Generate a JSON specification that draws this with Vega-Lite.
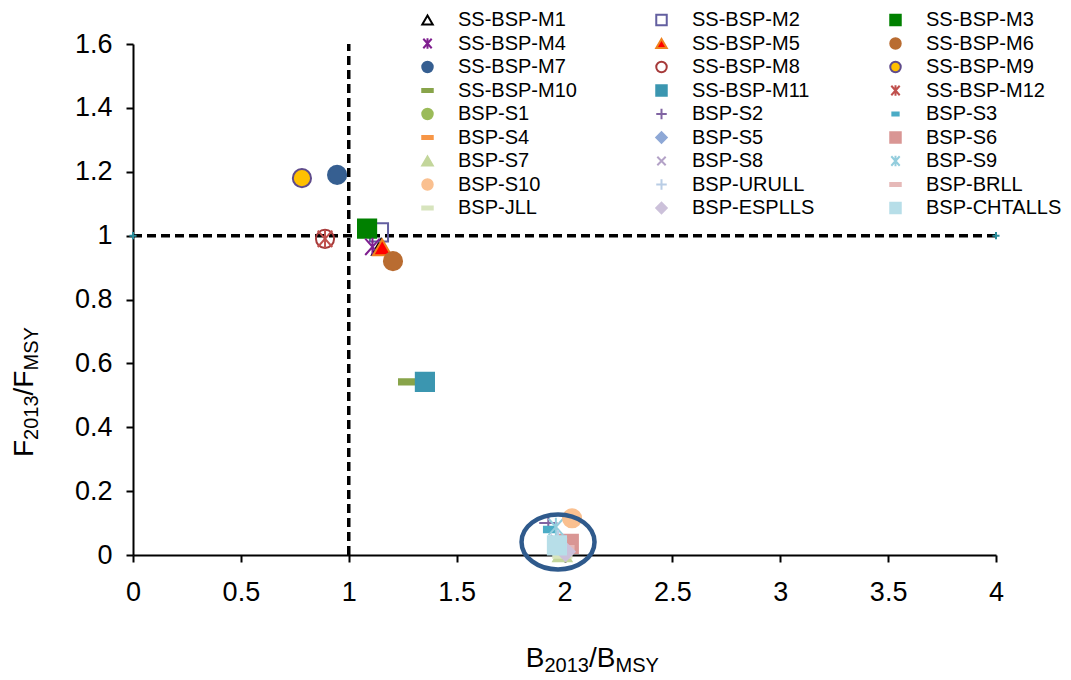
{
  "$schema": "https://vega.github.io/schema/vega-lite/v6.json",
  "width": 863,
  "height": 511,
  "autosize": {"type": "none"},
  "padding": {"left": 133, "top": 44, "right": 75, "bottom": 125},
  "background": "white",
  "config": {
    "view": {"stroke": null},
    "font": "Liberation Sans",
    "axis": {
      "grid": false,
      "domainColor": "black",
      "domainWidth": 2,
      "tickColor": "black",
      "tickWidth": 2,
      "tickSize": 7,
      "labelFlush": false,
      "labelFont": "Liberation Sans",
      "labelFontSize": 27,
      "labelColor": "black"
    },
    "legend": {"title": null, "orient": "none", "legendX": 284.5, "legendY": -34, "columns": 3, "gridAlign": "all", "columnPadding": 58, "rowPadding": 3.5, "labelOffset": 20.5, "labelFontSize": 20, "labelFont": "Liberation Sans", "labelColor": "black", "symbolSize": 110, "symbolStrokeWidth": 2, "symbolOpacity": 1, "labelLimit": 300, "padding": 0}
  },
  "datasets": {
    "series": [
      {"series": "SS-BSP-M1", "x": 1.15, "y": 0.965},
      {"series": "SS-BSP-M2", "x": 1.14, "y": 1.01},
      {"series": "SS-BSP-M3", "x": 1.085, "y": 1.022},
      {"series": "SS-BSP-M4", "x": 1.11, "y": 0.965},
      {"series": "SS-BSP-M5", "x": 1.155, "y": 0.963},
      {"series": "SS-BSP-M6", "x": 1.205, "y": 0.92},
      {"series": "SS-BSP-M7", "x": 0.946, "y": 1.19},
      {"series": "SS-BSP-M8", "x": 0.89, "y": 0.99},
      {"series": "SS-BSP-M9", "x": 0.783, "y": 1.18},
      {"series": "SS-BSP-M10", "x": 1.275, "y": 0.542},
      {"series": "SS-BSP-M11", "x": 1.353, "y": 0.542},
      {"series": "SS-BSP-M12", "x": 0.89, "y": 0.99},
      {"series": "BSP-S1", "x": 1.99, "y": 0.02},
      {"series": "BSP-S2", "x": 1.925, "y": 0.1},
      {"series": "BSP-S3", "x": 1.93, "y": 0.08},
      {"series": "BSP-S4", "x": 1.98, "y": 0.03},
      {"series": "BSP-S5", "x": 1.98, "y": 0.02},
      {"series": "BSP-S6", "x": 2.02, "y": 0.035},
      {"series": "BSP-S7", "x": 1.99, "y": 0.005},
      {"series": "BSP-S8", "x": 1.97, "y": 0.04},
      {"series": "BSP-S9", "x": 1.96, "y": 0.088},
      {"series": "BSP-S10", "x": 2.035, "y": 0.115},
      {"series": "BSP-URULL", "x": 1.97, "y": 0.05},
      {"series": "BSP-BRLL", "x": 2.0, "y": 0.02},
      {"series": "BSP-JLL", "x": 1.99, "y": 0.0},
      {"series": "BSP-ESPLLS", "x": 2.005, "y": 0.01},
      {"series": "BSP-CHTALLS", "x": 1.965, "y": 0.03}
    ],
    "refs": [
      {"x": 0, "y": 1, "x2": 4, "y2": 1},
      {"x": 1, "y": 0, "x2": 1, "y2": 1.6}
    ],
    "ends": [{"x": 0, "y": 1}, {"x": 4, "y": 1}],
    "highlight": [{"x": 1.97, "y": 0.041}]
  },
  "layer": [
    {
      "data": {"name": "refs"},
      "mark": {"type": "rule", "color": "black", "strokeWidth": 3.5, "strokeDash": [9, 5]},
      "encoding": {
        "x": {"field": "x", "type": "quantitative", "title": null,
              "scale": {"domain": [0, 4], "nice": false, "zero": false},
              "axis": {"values": [0, 0.5, 1, 1.5, 2, 2.5, 3, 3.5, 4], "format": "~g", "labelPadding": 17, "title": null}},
        "y": {"field": "y", "type": "quantitative", "title": null,
              "scale": {"domain": [0, 1.6], "nice": false, "zero": false},
              "axis": {"values": [0, 0.2, 0.4, 0.6, 0.8, 1, 1.2, 1.4, 1.6], "format": "~g", "labelPadding": 14, "title": null}},
        "x2": {"field": "x2"},
        "y2": {"field": "y2"}
      }
    },
    {
      "data": {"name": "ends"},
      "mark": {"type": "point", "shape": "M -1 0 L 1 0 M 0 -1 L 0 1", "size": 50, "stroke": "#2A8C9A", "strokeWidth": 2, "opacity": 1},
      "encoding": {
        "x": {"field": "x", "type": "quantitative", "title": null},
        "y": {"field": "y", "type": "quantitative", "title": null}
      }
    },
    {
      "data": {"name": "series"},
      "mark": {"type": "point", "size": 330, "strokeWidth": 2, "opacity": 1},
      "encoding": {
        "x": {"field": "x", "type": "quantitative", "title": null},
        "y": {"field": "y", "type": "quantitative", "title": null},
        "fill": {
          "field": "series", "type": "nominal",
          "scale": {
            "domain": ["SS-BSP-M1", "SS-BSP-M4", "SS-BSP-M7", "SS-BSP-M10", "BSP-S1", "BSP-S4", "BSP-S7", "BSP-S10", "BSP-JLL", "SS-BSP-M2", "SS-BSP-M5", "SS-BSP-M8", "SS-BSP-M11", "BSP-S2", "BSP-S5", "BSP-S8", "BSP-URULL", "BSP-ESPLLS", "SS-BSP-M3", "SS-BSP-M6", "SS-BSP-M9", "SS-BSP-M12", "BSP-S3", "BSP-S6", "BSP-S9", "BSP-BRLL", "BSP-CHTALLS"],
            "range": ["transparent", "transparent", "#365F91", "#88A44A", "#9BBB59", "#F79646", "#C3D69B", "#FAC090", "#D7E4BD", "transparent", "#FF0000", "transparent", "#3B96B0", "transparent", "#8EA8D6", "transparent", "transparent", "#CCC1DA", "#008000", "#B96C31", "#FFC000", "transparent", "#4BACC6", "#D99694", "transparent", "#E6B9B8", "#B7DEE8"]
          },
          "legend": {"title": null}
        },
        "stroke": {
          "field": "series", "type": "nominal",
          "scale": {
            "domain": ["SS-BSP-M1", "SS-BSP-M4", "SS-BSP-M7", "SS-BSP-M10", "BSP-S1", "BSP-S4", "BSP-S7", "BSP-S10", "BSP-JLL", "SS-BSP-M2", "SS-BSP-M5", "SS-BSP-M8", "SS-BSP-M11", "BSP-S2", "BSP-S5", "BSP-S8", "BSP-URULL", "BSP-ESPLLS", "SS-BSP-M3", "SS-BSP-M6", "SS-BSP-M9", "SS-BSP-M12", "BSP-S3", "BSP-S6", "BSP-S9", "BSP-BRLL", "BSP-CHTALLS"],
            "range": ["#000000", "#7F1F8F", "#365F91", "#88A44A", "#9BBB59", "#F79646", "#C3D69B", "#FAC090", "#D7E4BD", "#635FA0", "#F0821E", "#A63A3A", "#3B96B0", "#8064A2", "#8EA8D6", "#B3A2C7", "#B9CDE5", "#CCC1DA", "#008000", "#B96C31", "#5F4B8B", "#C0504D", "#4BACC6", "#D99694", "#93CDDD", "#E6B9B8", "#B7DEE8"]
          },
          "legend": {"title": null}
        },
        "shape": {
          "field": "series", "type": "nominal",
          "scale": {
            "domain": ["SS-BSP-M1", "SS-BSP-M4", "SS-BSP-M7", "SS-BSP-M10", "BSP-S1", "BSP-S4", "BSP-S7", "BSP-S10", "BSP-JLL", "SS-BSP-M2", "SS-BSP-M5", "SS-BSP-M8", "SS-BSP-M11", "BSP-S2", "BSP-S5", "BSP-S8", "BSP-URULL", "BSP-ESPLLS", "SS-BSP-M3", "SS-BSP-M6", "SS-BSP-M9", "SS-BSP-M12", "BSP-S3", "BSP-S6", "BSP-S9", "BSP-BRLL", "BSP-CHTALLS"],
            "range": ["triangle-up", "M -0.8 -0.9 L 0.8 0.9 M -0.8 0.9 L 0.8 -0.9 M 0 -1 L 0 1", "circle", "M -1 -0.3 L 1 -0.3 L 1 0.3 L -1 0.3 Z", "circle", "M -1 -0.3 L 1 -0.3 L 1 0.3 L -1 0.3 Z", "triangle-up", "circle", "M -1 -0.3 L 1 -0.3 L 1 0.3 L -1 0.3 Z", "square", "triangle-up", "circle", "square", "M -1 0 L 1 0 M 0 -1 L 0 1", "diamond", "M -0.8 -0.8 L 0.8 0.8 M -0.8 0.8 L 0.8 -0.8", "M -1 0 L 1 0 M 0 -1 L 0 1", "diamond", "square", "circle", "circle", "M -0.8 -0.9 L 0.8 0.9 M -0.8 0.9 L 0.8 -0.9 M 0 -1 L 0 1", "M -0.6 -0.3 L 0.6 -0.3 L 0.6 0.3 L -0.6 0.3 Z", "square", "M -0.8 -0.9 L 0.8 0.9 M -0.8 0.9 L 0.8 -0.9 M 0 -1 L 0 1", "M -1 -0.3 L 1 -0.3 L 1 0.3 L -1 0.3 Z", "square"]
          },
          "legend": {"title": null}
        }
      }
    },
    {
      "data": {"name": "highlight"},
      "mark": {"type": "point", "shape": "M -1 0 C -1 -0.4159 -0.5523 -0.753 0 -0.753 C 0.5523 -0.753 1 -0.4159 1 0 C 1 0.4159 0.5523 0.753 0 0.753 C -0.5523 0.753 -1 0.4159 -1 0 Z", "size": 5329, "stroke": "#2F5A8C", "strokeWidth": 4.5, "fill": "transparent", "opacity": 1},
      "encoding": {
        "x": {"field": "x", "type": "quantitative", "title": null},
        "y": {"field": "y", "type": "quantitative", "title": null}
      }
    },
    {
      "data": {"values": [{}]},
      "mark": {"type": "text", "text": "B", "fontSize": 28, "align": "left", "baseline": "alphabetic", "font": "Liberation Sans", "color": "black"},
      "encoding": {"x": {"datum": 1.8206, "type": "quantitative"}, "y": {"datum": -0.3507, "type": "quantitative"}}
    },
    {
      "data": {"values": [{}]},
      "mark": {"type": "text", "text": "2013", "fontSize": 20, "align": "left", "baseline": "alphabetic", "font": "Liberation Sans", "color": "black", "dx": 18.7, "dy": 5},
      "encoding": {"x": {"datum": 1.8206, "type": "quantitative"}, "y": {"datum": -0.3507, "type": "quantitative"}}
    },
    {
      "data": {"values": [{}]},
      "mark": {"type": "text", "text": "/B", "fontSize": 28, "align": "left", "baseline": "alphabetic", "font": "Liberation Sans", "color": "black", "dx": 63.2},
      "encoding": {"x": {"datum": 1.8206, "type": "quantitative"}, "y": {"datum": -0.3507, "type": "quantitative"}}
    },
    {
      "data": {"values": [{}]},
      "mark": {"type": "text", "text": "MSY", "fontSize": 20, "align": "left", "baseline": "alphabetic", "font": "Liberation Sans", "color": "black", "dx": 89.7, "dy": 5},
      "encoding": {"x": {"datum": 1.8206, "type": "quantitative"}, "y": {"datum": -0.3507, "type": "quantitative"}}
    },
    {
      "data": {"values": [{}]},
      "mark": {"type": "text", "text": "F", "fontSize": 28, "align": "left", "baseline": "alphabetic", "font": "Liberation Sans", "color": "black", "angle": 270},
      "encoding": {"x": {"datum": -0.4635, "type": "quantitative"}, "y": {"datum": 0.3068, "type": "quantitative"}}
    },
    {
      "data": {"values": [{}]},
      "mark": {"type": "text", "text": "2013", "fontSize": 20, "align": "left", "baseline": "alphabetic", "font": "Liberation Sans", "color": "black", "angle": 270, "dx": 17.1, "dy": 5},
      "encoding": {"x": {"datum": -0.4635, "type": "quantitative"}, "y": {"datum": 0.3068, "type": "quantitative"}}
    },
    {
      "data": {"values": [{}]},
      "mark": {"type": "text", "text": "/F", "fontSize": 28, "align": "left", "baseline": "alphabetic", "font": "Liberation Sans", "color": "black", "angle": 270, "dx": 61.6},
      "encoding": {"x": {"datum": -0.4635, "type": "quantitative"}, "y": {"datum": 0.3068, "type": "quantitative"}}
    },
    {
      "data": {"values": [{}]},
      "mark": {"type": "text", "text": "MSY", "fontSize": 20, "align": "left", "baseline": "alphabetic", "font": "Liberation Sans", "color": "black", "angle": 270, "dx": 86.5, "dy": 5},
      "encoding": {"x": {"datum": -0.4635, "type": "quantitative"}, "y": {"datum": 0.3068, "type": "quantitative"}}
    }
  ]
}
